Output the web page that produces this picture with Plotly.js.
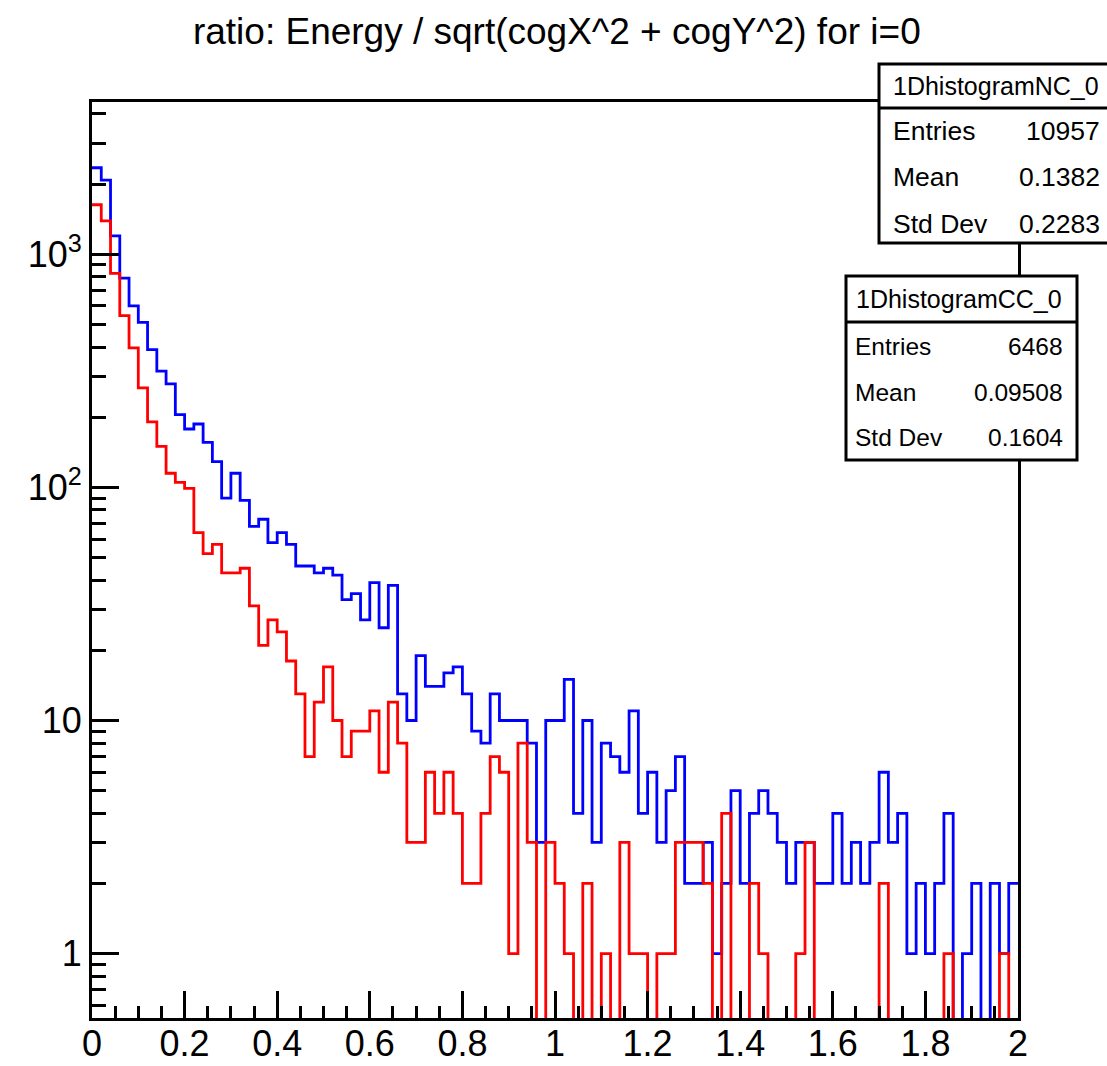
<!DOCTYPE html>
<html>
<head>
<meta charset="utf-8">
<script src="https://cdn.plot.ly/plotly-3.0.1.min.js"></script>
<style>
  html, body { margin: 0; padding: 0; background: #ffffff; }
  #plot { width: 1107px; height: 1066px; }
</style>
</head>
<body>
<div id="plot"></div>
<script>
// Binning of both histograms: 100 bins on [0, 2]
const xMin = 0;
const xMax = 2;
const nBins = 100;

// Bin contents, 1DhistogramNC_0 (blue)
const countsNC = [
  2350, 2080, 1200, 790, 600, 510, 390, 315, 278, 205,
  178, 187, 156, 129, 90, 115, 88, 68, 73, 58,
  64, 57, 46, 46, 43, 45, 42, 33, 35, 27,
  39, 25, 38, 13, 10, 19, 14, 14, 16, 17,
  13, 9, 8, 13, 10, 10, 10, 8, 3, 10,
  10, 15, 4, 10, 3, 8, 7, 6, 11, 4,
  6, 3, 5, 7, 2, 2, 3, 1, 2, 5,
  2, 4, 5, 4, 3, 2, 3, 3, 2, 2,
  4, 2, 3, 2, 3, 6, 3, 4, 1, 2,
  1, 2, 4, 0, 1, 2, 0, 2, 1, 2
];

// Bin contents, 1DhistogramCC_0 (red)
const countsCC = [
  1630, 1390, 828, 545, 397, 267, 191, 150, 115, 105,
  99, 64, 52, 57, 43, 43, 45, 31, 21, 27,
  24, 18, 13, 7, 12, 17, 10, 7, 9, 9,
  11, 6, 12, 8, 3, 3, 6, 4, 6, 4,
  2, 2, 4, 7, 6, 1, 8, 3, 0, 3,
  2, 1, 0, 2, 0, 1, 0, 3, 1, 1,
  0, 1, 1, 3, 3, 3, 2, 0, 4, 0,
  0, 2, 1, 0, 0, 0, 1, 3, 0, 0,
  0, 0, 0, 0, 0, 2, 0, 0, 0, 0,
  0, 0, 1, 0, 0, 0, 0, 0, 1, 0
];

// Axis ticks
const xTickVals = [0, 0.2, 0.4, 0.6, 0.8, 1, 1.2, 1.4, 1.6, 1.8, 2];
const xTickText = ['0', '0.2', '0.4', '0.6', '0.8', '1', '1.2', '1.4', '1.6', '1.8', '2'];
const yTickVals = [1, 10, 100, 1000];
const yTickText = ['1', '10', '10<sup>2</sup>', '10<sup>3</sup>'];
const yMinorVals = [0.6, 0.7, 0.8, 0.9,
  2, 3, 4, 5, 6, 7, 8, 9,
  20, 30, 40, 50, 60, 70, 80, 90,
  200, 300, 400, 500, 600, 700, 800, 900,
  2000, 3000, 4000];

// Statistics boxes
const statLabels = ['Entries', 'Mean', 'Std Dev'];
const nameNC = '1DhistogramNC_0';
const statsNC = ['10957', '0.1382', '0.2283'];
const nameCC = '1DhistogramCC_0';
const statsCC = ['6468', '0.09508', '0.1604'];

const titleText = 'ratio: Energy / sqrt(cogX^2 + cogY^2) for i=0';

// ---- drawing ----
const FONT = 'Liberation Sans, Arial, Helvetica, sans-serif';
const W = 1107, H = 1066;
const PL = 92, PR = 1018, PT = 102, PB = 1018;   // frame edges in pixels
const fx = p => (p - PL) / (PR - PL);
const fy = p => (PB - p) / (PB - PT);
const LW = 3;

// Histogram outline as a step line; empty bins drop below the frame
function stepTrace(counts, color) {
  const w = (xMax - xMin) / nBins;
  const xs = [], ys = [];
  for (let i = 0; i < nBins; i++) {
    xs.push(xMin + i * w);
    ys.push(counts[i] > 0 ? counts[i] : 1e-3);
  }
  xs.push(xMax);
  ys.push(ys[ys.length - 1]);
  return {
    type: 'scatter', mode: 'lines', x: xs, y: ys,
    line: { shape: 'hv', color: color, width: 2.8 },
    hoverinfo: 'skip'
  };
}

const traces = [stepTrace(countsNC, '#0000ff'), stepTrace(countsCC, '#ff0000')];

const shapes = [];
const annotations = [];

function statBox(box, name, values, fonts) {
  shapes.push({ type: 'rect', xref: 'paper', yref: 'paper',
    x0: fx(box.left), x1: fx(box.right), y0: fy(box.bottom), y1: fy(box.top),
    fillcolor: '#ffffff', line: { color: '#000000', width: LW }, layer: 'above' });
  shapes.push({ type: 'line', xref: 'paper', yref: 'paper',
    x0: fx(box.left), x1: fx(box.right), y0: fy(box.sep), y1: fy(box.sep),
    line: { color: '#000000', width: LW }, layer: 'above' });
  annotations.push({ xref: 'paper', yref: 'paper', x: fx(box.titleX), y: fy(box.titleY),
    xanchor: 'center', yanchor: 'middle', showarrow: false, text: name,
    font: { family: FONT, size: fonts.title, color: '#000' } });
  for (let i = 0; i < statLabels.length; i++) {
    annotations.push({ xref: 'paper', yref: 'paper', x: fx(box.labelX), y: fy(box.rows[i]),
      xanchor: 'left', yanchor: 'middle', showarrow: false, text: statLabels[i],
      font: { family: FONT, size: fonts.body, color: '#000' } });
    annotations.push({ xref: 'paper', yref: 'paper', x: fx(box.valueX), y: fy(box.rows[i]),
      xanchor: 'right', yanchor: 'middle', showarrow: false, text: values[i],
      font: { family: FONT, size: fonts.body, color: '#000' } });
  }
}

statBox({ left: 879, right: 1112, top: 64, sep: 108, bottom: 243,
          titleX: 996, titleY: 86, labelX: 891, valueX: 1102, rows: [131, 177, 224] },
        nameNC, statsNC, { title: 25, body: 26.5 });
statBox({ left: 846, right: 1077, top: 276, sep: 322, bottom: 460,
          titleX: 959, titleY: 299, labelX: 853, valueX: 1065, rows: [346, 392, 437] },
        nameCC, statsCC, { title: 25, body: 24.5 });

const layout = {
  width: W, height: H,
  margin: { l: PL, r: W - PR, t: PT, b: H - PB, pad: 0 },
  paper_bgcolor: '#ffffff', plot_bgcolor: '#ffffff',
  showlegend: false,
  title: {
    text: titleText,
    font: { family: FONT, size: 37, color: '#000000' },
    xref: 'container', x: 0.503, xanchor: 'center',
    yref: 'container', y: 1 - 31 / H, yanchor: 'middle'
  },
  xaxis: {
    range: [xMin, xMax], showgrid: false, zeroline: false,
    showline: true, linecolor: '#000', linewidth: LW, mirror: true,
    ticks: 'inside', ticklen: 27, tickwidth: LW, tickcolor: '#000',
    tickmode: 'array', tickvals: xTickVals, ticktext: xTickText,
    tickfont: { family: FONT, size: 36, color: '#000' },
    ticklabelstandoff: -8,
    minor: { tickmode: 'linear', tick0: 0, dtick: 0.05, ticks: 'inside', ticklen: 12,
             tickwidth: LW, tickcolor: '#000', showgrid: false },
    automargin: false, fixedrange: true
  },
  yaxis: {
    type: 'log', range: [-0.276, 3.653], showgrid: false, zeroline: false,
    showline: true, linecolor: '#000', linewidth: LW, mirror: true,
    ticks: 'inside', ticklen: 27, tickwidth: LW, tickcolor: '#000',
    tickmode: 'array', tickvals: yTickVals, ticktext: yTickText,
    tickfont: { family: FONT, size: 36, color: '#000' },
    minor: { tickmode: 'array', tickvals: yMinorVals, ticks: 'inside', ticklen: 14,
             tickwidth: LW, tickcolor: '#000', showgrid: false },
    automargin: false, fixedrange: true
  },
  shapes: shapes,
  annotations: annotations
};

Plotly.newPlot('plot', traces, layout, { staticPlot: true, displayModeBar: false });
</script>
</body>
</html>
